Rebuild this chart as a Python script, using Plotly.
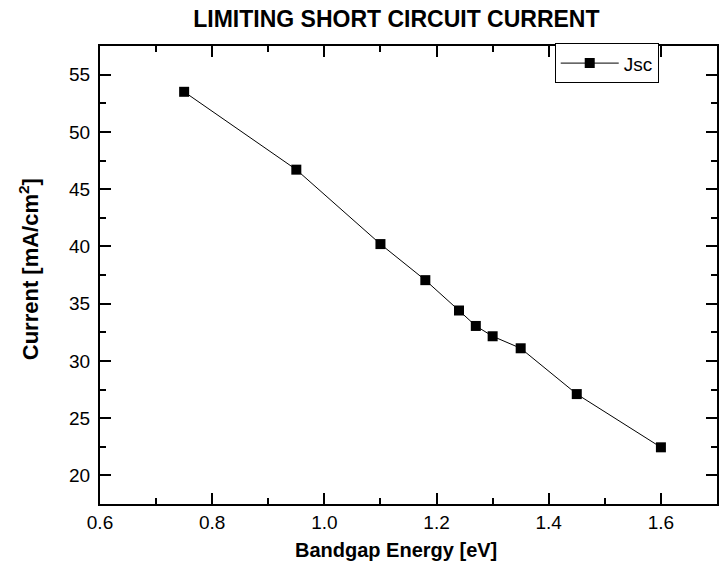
import plotly.graph_objects as go

bandgap_ev = [0.75, 0.95, 1.10, 1.18, 1.24, 1.27, 1.30, 1.35, 1.45, 1.60]
jsc_ma_cm2 = [53.5, 46.7, 40.2, 37.05, 34.4, 33.05, 32.15, 31.1, 27.1, 22.45]

FONT = "Liberation Sans, Arial, sans-serif"

fig = go.Figure()
fig.add_trace(go.Scatter(
    x=bandgap_ev, y=jsc_ma_cm2, mode="lines+markers", name="Jsc",
    line=dict(color="black", width=1),
    marker=dict(symbol="square", size=10, color="black"),
))

axis_common = dict(
    showline=True, linecolor="black", linewidth=2, mirror="allticks",
    ticks="inside", ticklen=11, tickwidth=2, tickcolor="black",
    showgrid=False, zeroline=False,
    tickfont=dict(family=FONT, size=19, color="black"),
)

fig.update_layout(
    width=722, height=569,
    margin=dict(l=100, r=3, t=46, b=65),
    paper_bgcolor="white", plot_bgcolor="white",
    title=dict(text="<b>LIMITING SHORT CIRCUIT CURRENT</b>", x=0.549, xanchor="center",
               y=0.966, yanchor="middle",
               font=dict(family=FONT, size=23, color="black")),
    xaxis=dict(range=[0.6, 1.7], dtick=0.2, tick0=0.6, tickformat=".1f",
               minor=dict(ticks="inside", dtick=0.1, ticklen=6, tickwidth=2, tickcolor="black"),
               **axis_common),
    yaxis=dict(range=[17.5, 57.5], dtick=5, tick0=20, ticklabelstandoff=4,
               minor=dict(ticks="inside", dtick=2.5, ticklen=6, tickwidth=2, tickcolor="black"),
               **axis_common),
    showlegend=True,
    legend=dict(x=0.737, y=1.006, xanchor="left", yanchor="top",
                bordercolor="black", borderwidth=1, bgcolor="white",
                font=dict(family=FONT, size=19, color="black"),
                tracegroupgap=0, itemwidth=58),
    annotations=[
        dict(text="<b>Bandgap Energy [eV]</b>", xref="paper", yref="paper",
             x=0.48, y=-0.1013, xanchor="center", yanchor="middle", showarrow=False,
             font=dict(family=FONT, size=20, color="black")),
        dict(text="<b>Current [mA/cm<sup>2</sup>]</b>", xref="paper", yref="paper",
             x=-0.1155, y=0.512, xanchor="center", yanchor="middle", showarrow=False,
             textangle=-90, font=dict(family=FONT, size=22, color="black")),
    ],
)

fig.write_html("out.html")
